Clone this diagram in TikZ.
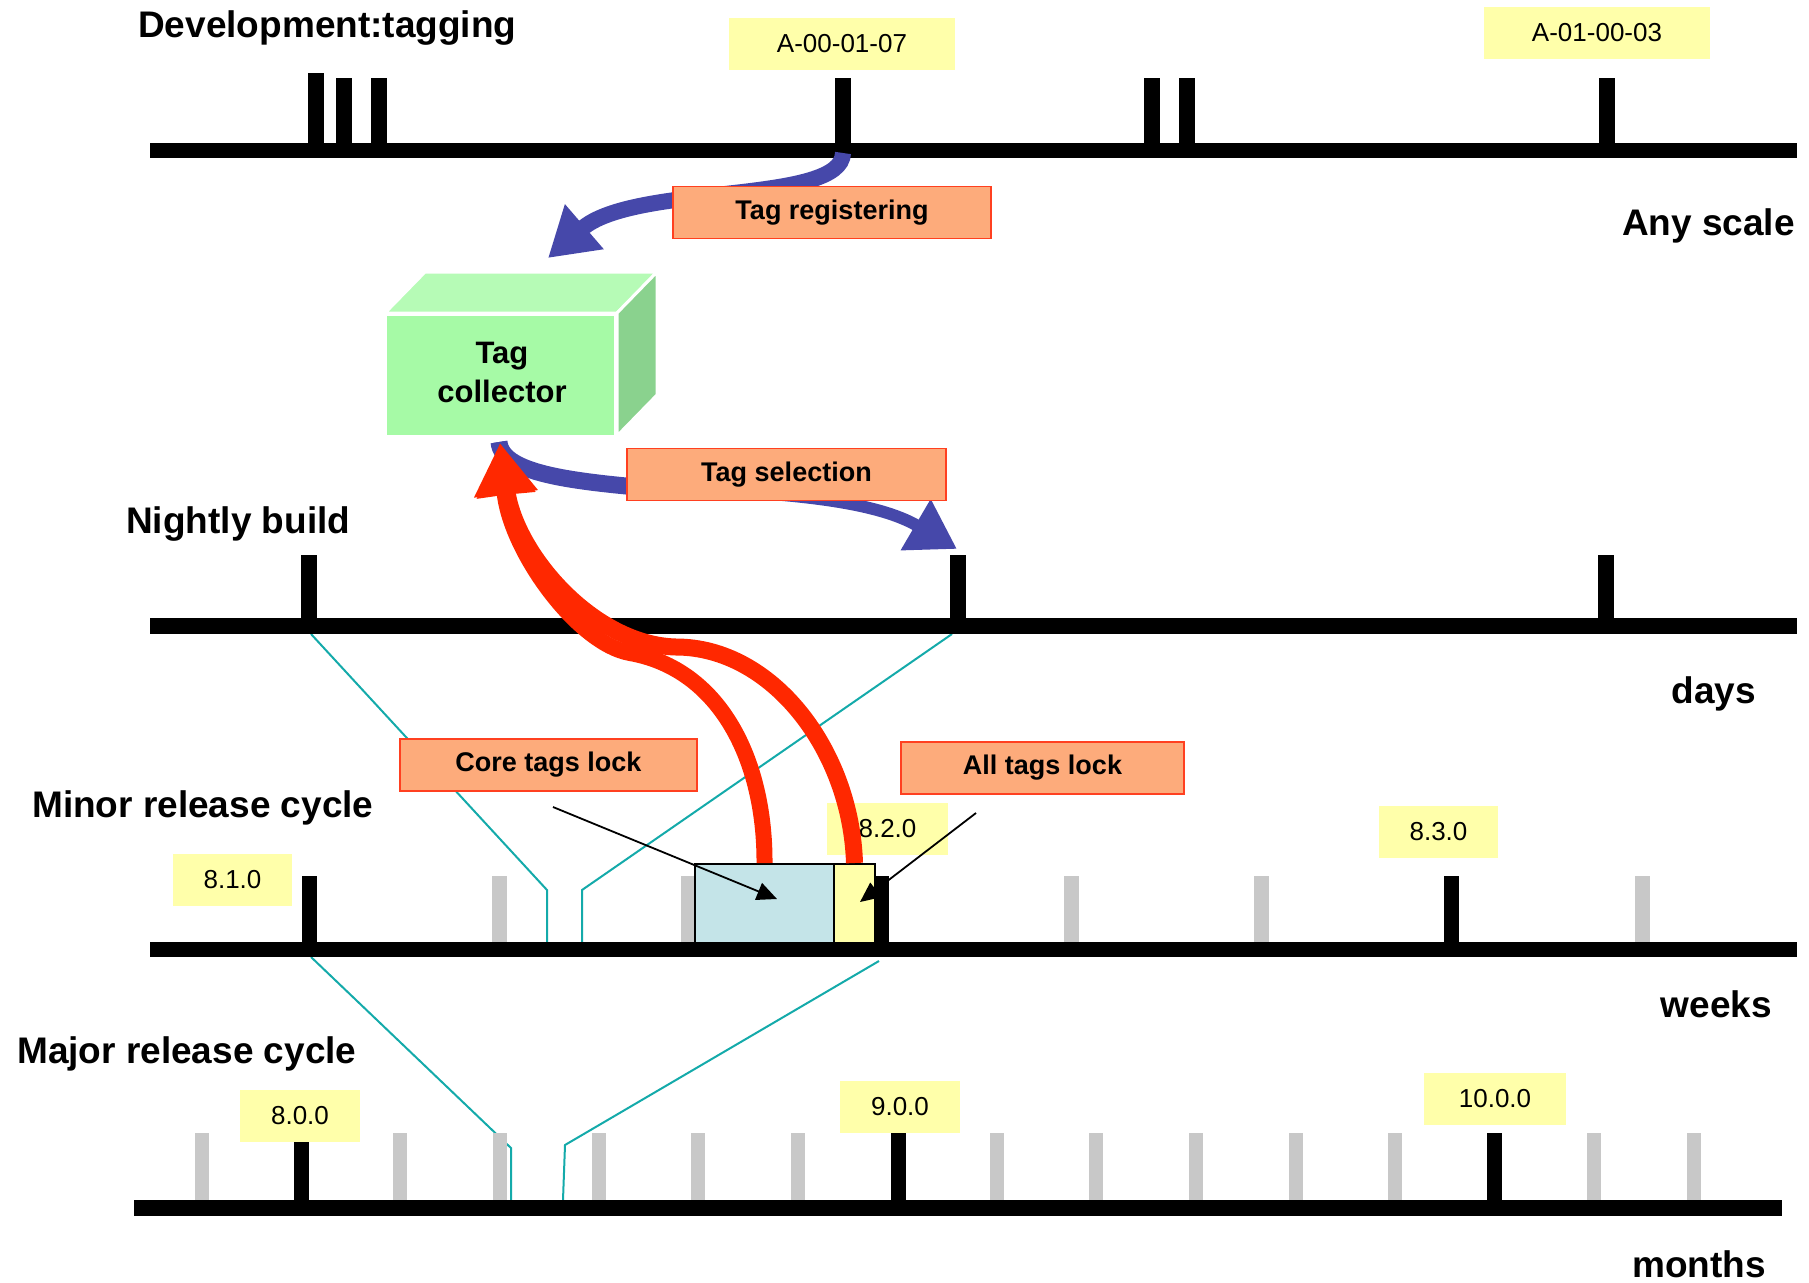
\documentclass[tikz,border=0pt]{standalone}
\usepackage{fontspec}
\setmainfont{Liberation Sans}
\usetikzlibrary{arrows.meta}
\definecolor{arrblue}{RGB}{70,72,170}
\definecolor{arrred}{RGB}{255,40,0}
\definecolor{boxorange}{RGB}{253,171,123}
\definecolor{boxedge}{RGB}{255,64,32}
\definecolor{labyellow}{RGB}{255,255,170}
\definecolor{lockblue}{RGB}{196,228,232}
\definecolor{tealline}{RGB}{20,170,170}
\definecolor{tickgrey}{RGB}{200,200,200}
\definecolor{cubefront}{RGB}{166,250,166}
\definecolor{cubetop}{RGB}{182,251,182}
\definecolor{cubeside}{RGB}{138,210,142}
\newcommand\mytick[5]{\fill[#1] ({#2-#5},#3) rectangle ({#2+#5},#4);}
\tikzset{
  bigtext/.style={font=\fontsize{37}{40}\selectfont\bfseries, inner sep=0pt},
  orangebox/.style={draw=boxedge, line width=1.5pt, fill=boxorange, font=\fontsize{27}{30}\selectfont\bfseries, inner sep=0pt, minimum height=52pt},
  verlab/.style={fill=labyellow, font=\fontsize{26}{28}\selectfont, inner sep=0pt, minimum height=52pt},
  zoomline/.style={draw=tealline, line width=2pt},
  bluearrow/.style={draw=arrblue, line width=15pt, -{Triangle[length=48pt,width=56pt]}},
  redarrow/.style={draw=arrred, line width=16pt, -{Triangle[length=52pt,width=58pt]}},
  pointer/.style={draw=black, line width=1.8pt, -{Triangle[length=20pt,width=18pt]}},
  cubeface/.style={draw=white, line width=3pt, line join=miter},
  lockbox/.style={draw=black, line width=2pt, inner sep=0pt, minimum height=79pt},
}
\begin{document}
\begin{tikzpicture}[x=1pt,y=-1pt]
\useasboundingbox (0,0) rectangle (1809,1282);

% ---------- zoom (projection) lines ----------
\coordinate (n1) at (311,634);
\coordinate (n1a) at (547,890);
\coordinate (n1b) at (547,942);
\coordinate (n2) at (952,634);
\coordinate (n2a) at (582,890);
\coordinate (n2b) at (582,942);
\coordinate (m1) at (311,957);
\coordinate (m1a) at (511,1148);
\coordinate (m1b) at (511,1200);
\coordinate (m2) at (879,961);
\coordinate (m2a) at (565,1145);
\coordinate (m2b) at (563,1200);
\draw[zoomline] (n1) -- (n1a) -- (n1b);
\draw[zoomline] (n2) -- (n2a) -- (n2b);
\draw[zoomline] (m1) -- (m1a) -- (m1b);
\draw[zoomline] (m2) -- (m2a) -- (m2b);

% ---------- timeline 1: development tagging ----------
\mytick{black}{316}{73}{150}{8}
\mytick{black}{344}{78}{150}{8}
\mytick{black}{379}{78}{150}{8}
\mytick{black}{843}{78}{150}{8}
\mytick{black}{1152}{78}{150}{8}
\mytick{black}{1187}{78}{150}{8}
\mytick{black}{1607}{78}{150}{8}
\draw[line width=15pt] (150,150) -- (1797,150);

% ---------- timeline 2: nightly ----------
\mytick{black}{309}{555}{626}{8}
\mytick{black}{958}{555}{626}{8}
\mytick{black}{1606}{555}{626}{8}
\draw[line width=16pt] (150,626) -- (1797,626);

% ---------- timeline 3: minor ----------
\foreach \gx in {499,688,1071,1261,1642} {\mytick{tickgrey}{\gx}{876}{948}{7.5}}
\foreach \bx in {309,881,1451} {\mytick{black}{\bx}{876}{948}{7.5}}
\draw[line width=15pt] (150,949.5) -- (1797,949.5);

% ---------- timeline 4: major ----------
\foreach \gx in {202,400,500,599,698,798,997,1096,1196,1296,1395,1594,1694} {\mytick{tickgrey}{\gx}{1133}{1206}{7}}
\foreach \bx in {301,898,1494} {\mytick{black}{\bx}{1133}{1206}{7.5}}
\draw[line width=16pt] (134,1208) -- (1782,1208);

% ---------- scale labels ----------
\node[bigtext, anchor=base west] (tdev) at (138,37) {Development:tagging};
\node[bigtext, anchor=base east] (tany) at (1795,235) {Any scale};
\node[bigtext, anchor=base west] (tnight) at (126,533) {Nightly build};
\node[bigtext, anchor=base east] (tdays) at (1756,703) {days};
\node[bigtext, anchor=base west] (tminor) at (32,817) {Minor release cycle};
\node[bigtext, anchor=base east] (tweeks) at (1772,1017) {weeks};
\node[bigtext, anchor=base west] (tmajor) at (17,1063) {Major release cycle};
\node[bigtext, anchor=base east] (tmonths) at (1766,1277) {months};

% ---------- version labels ----------
\node[verlab, minimum width=226pt] (vA7) at (842,44) {A-00-01-07};
\node[verlab, minimum width=226pt] (vA3) at (1597,33) {A-01-00-03};
\node[verlab, minimum width=119pt] (v810) at (232.5,880) {8.1.0};
\node[verlab, minimum width=121pt] (v820) at (887.5,829) {8.2.0};
\node[verlab, minimum width=119pt] (v830) at (1438.5,831.5) {8.3.0};
\node[verlab, minimum width=120pt] (v800) at (300,1116) {8.0.0};
\node[verlab, minimum width=120pt] (v900) at (900,1107) {9.0.0};
\node[verlab, minimum width=142pt] (v1000) at (1495,1099) {10.0.0};

% ---------- lock boxes ----------
\node[lockbox, fill=lockblue, minimum width=139pt] (corelock) at (764.5,903.5) {};
\node[lockbox, fill=labyellow, minimum width=41pt] (alllock) at (854.5,903.5) {};

% ---------- tag collector cube ----------
\fill[cubetop, cubeface] (385,313) -- (425,272) -- (657,272) -- (617,313) -- cycle;
\fill[cubeside, cubeface] (617,313) -- (657,272) -- (657,395) -- (617,436) -- cycle;
\node[fill=cubefront, draw=white, line width=3pt, minimum width=230pt, minimum height=122pt,
      inner sep=0pt] (collector) at (500,375) {};
\node[align=center, inner sep=0pt, font=\fontsize{31}{39}\selectfont\bfseries] (collectortext) at (502,372) {Tag\\collector};

% ---------- blue arrows ----------
\coordinate (regstart) at (843,153);
\coordinate (regtip) at (548,258);
\draw[bluearrow, line width=16pt] (regstart) .. controls (842,205) and (635,183) .. (regtip);
\coordinate (selstart) at (499,442);
\coordinate (selmid) at (678.5,490.6);
\coordinate (seltip) at (957,549);
\draw[bluearrow, line width=12pt] (selstart) .. controls (505,510) and (819,468) .. (seltip);
\draw[draw=arrblue, line width=17pt] (selstart) .. controls (502,476) and (582,482.5) .. (selmid);

% ---------- orange boxes ----------
\node[orangebox, minimum width=318pt] (reg) at (832,212.5) {Tag registering};
\node[orangebox, minimum width=319pt] (sel) at (786.5,474.5) {Tag selection};
\node[orangebox, minimum width=297pt] (corelab) at (548.5,765) {Core tags lock};
\node[orangebox, minimum width=283pt] (alllab) at (1042.5,768) {All tags lock};

% ---------- red arrows ----------
\coordinate (redtip) at (500,443);
\coordinate (redL) at (630,653);
\coordinate (redR) at (676,647);
\draw[redarrow] (corelock.north) .. controls (765,760) and (720,669) .. (redL)
      .. controls (578,644) and (510,551) .. (redtip);
\draw[redarrow, line width=17pt] (alllock.north) .. controls (851,750) and (772,647) .. (redR)
      .. controls (594,645) and (516,555) .. (redtip);

% ---------- pointers ----------
\coordinate (ptrA) at (553,807);
\coordinate (ptrAt) at (777,899);
\coordinate (ptrB) at (976,813);
\coordinate (ptrBt) at (860,902);
\draw[pointer] (ptrA) -- (ptrAt);
\draw[pointer] (ptrB) -- (ptrBt);
\end{tikzpicture}
\end{document}
